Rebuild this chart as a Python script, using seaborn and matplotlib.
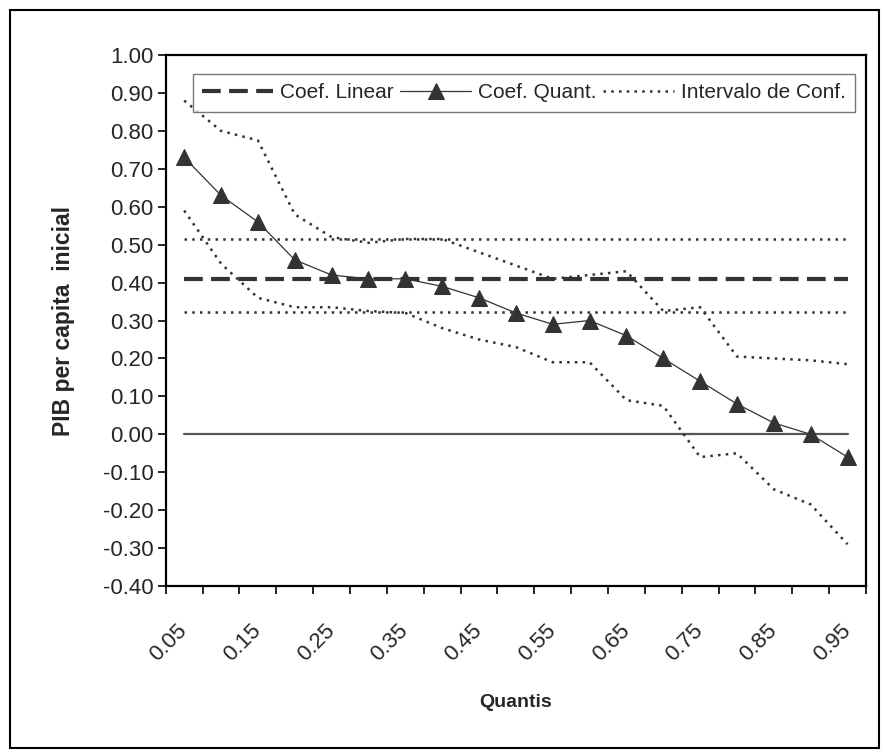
import numpy as np
import pandas as pd
import matplotlib.pyplot as plt
import seaborn as sns
from matplotlib.patches import Rectangle

quantis = ['0.05', '0.10', '0.15', '0.20', '0.25', '0.30', '0.35', '0.40', '0.45', '0.50',
           '0.55', '0.60', '0.65', '0.70', '0.75', '0.80', '0.85', '0.90', '0.95']
coef_quant = [0.73, 0.63, 0.56, 0.46, 0.42, 0.41, 0.41, 0.39, 0.36, 0.32,
              0.29, 0.30, 0.26, 0.20, 0.14, 0.08, 0.03, 0.00, -0.06]
ic_sup = [0.88, 0.80, 0.775, 0.58, 0.52, 0.505, 0.515, 0.515, 0.48, 0.445,
          0.41, 0.42, 0.43, 0.325, 0.335, 0.205, 0.20, 0.195, 0.185]
ic_inf = [0.59, 0.45, 0.36, 0.335, 0.335, 0.325, 0.32, 0.28, 0.25, 0.23,
          0.19, 0.19, 0.09, 0.075, -0.06, -0.05, -0.145, -0.185, -0.29]
coef_linear = 0.41
ic_linear_sup = 0.515
ic_linear_inf = 0.323
yticks = [-0.4, -0.3, -0.2, -0.1, 0.0, 0.1, 0.2, 0.3, 0.4, 0.5, 0.6, 0.7, 0.8, 0.9, 1.0]

pos = np.arange(len(quantis))
df = pd.DataFrame({
    'pos': pos,
    'quant': coef_quant,
    'sup': ic_sup,
    'inf': ic_inf,
    'linear': coef_linear,
    'lin_sup': ic_linear_sup,
    'lin_inf': ic_linear_inf,
    'zero': 0.0,
})

sns.set_theme(style='white')
plt.rcParams['font.family'] = ['Liberation Sans', 'DejaVu Sans']

fig = plt.figure(figsize=(8.84, 7.54), dpi=100)
ax = fig.add_axes([0.1875, 0.2228, 0.7921, 0.7042])

cor = '#333333'
dots = dict(color=cor, lw=1.8, ls=(0, (1.0, 2.1)))

sns.lineplot(data=df, x='pos', y='zero', ax=ax, color='#555555', lw=1.6)
sns.lineplot(data=df, x='pos', y='lin_sup', ax=ax, **dots)
sns.lineplot(data=df, x='pos', y='lin_inf', ax=ax, **dots)
sns.lineplot(data=df, x='pos', y='sup', ax=ax, **dots)
sns.lineplot(data=df, x='pos', y='inf', ax=ax, **dots, label='Intervalo de Conf.')
sns.lineplot(data=df, x='pos', y='linear', ax=ax, color=cor, lw=3.0,
             ls=(0, (4.5, 2.0)), label='Coef. Linear')
sns.lineplot(data=df, x='pos', y='quant', ax=ax, color=cor, lw=0.9,
             marker='^', markersize=11, markeredgecolor=cor, label='Coef. Quant.')

ax.set_xlim(-0.5, len(quantis) - 0.5)
ax.set_ylim(-0.4, 1.0)
ax.set_yticks(yticks)
ax.set_yticklabels([f'{v:.2f}' for v in yticks], fontsize=16)
ax.tick_params(axis='y', which='major', direction='out', length=6, width=1.2,
               color='black', left=True, pad=3)

ax.set_xticks(np.arange(-0.5, len(quantis)), labels=[])
ax.set_xticks(pos[::2], labels=quantis[::2], minor=True)
ax.tick_params(axis='x', which='major', direction='out', length=6, width=1.2,
               color='black', bottom=True)
ax.tick_params(axis='x', which='minor', length=0, pad=30, labelsize=16)
for t in ax.get_xticklabels(minor=True):
    t.set_rotation(45)
    t.set_ha('right')
    t.set_va('center')
    t.set_rotation_mode('anchor')

for s in ax.spines.values():
    s.set_color('black')
    s.set_linewidth(1.6)

ax.set_xlabel('Quantis', fontsize=14, fontweight='bold', labelpad=20)
ax.set_ylabel('PIB per capita  inicial', fontsize=16.5, fontweight='bold', labelpad=20)

h, l = ax.get_legend_handles_labels()
order = [l.index('Coef. Linear'), l.index('Coef. Quant.'), l.index('Intervalo de Conf.')]
leg = ax.legend([h[i] for i in order], [l[i] for i in order], ncol=3,
                loc='lower left', bbox_to_anchor=(0.039, 0.893, 0.945, 0.086),
                mode='expand', fontsize=15, frameon=True, fancybox=False,
                handlelength=3.4, handletextpad=0.3, columnspacing=0.2,
                borderaxespad=0, borderpad=0.45)
leg.get_frame().set_edgecolor('#555555')
leg.get_frame().set_linewidth(1.0)

fig.patches.append(Rectangle((10 / 884, 6 / 754), 869 / 884, 738 / 754,
                             transform=fig.transFigure, fill=False,
                             edgecolor='black', lw=1.5))

plt.savefig('out.png', dpi=100)
